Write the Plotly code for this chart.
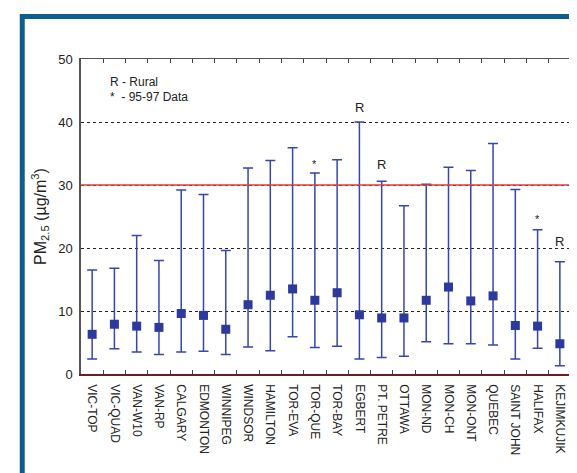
import plotly.graph_objects as go

categories = ["VIC-TOP", "VIC-QUAD", "VAN-W10", "VAN-RP", "CALGARY", "EDMONTON",
              "WINNIPEG", "WINDSOR", "HAMILTON", "TOR-EVA", "TOR-QUE", "TOR-BAY",
              "EGBERT", "PT. PETRE", "OTTAWA", "MON-ND", "MON-CH", "MON-ONT",
              "QUEBEC", "SAINT JOHN", "HALIFAX", "KEJIMKUJIK"]
mean_vals = [6.3, 7.9, 7.6, 7.4, 9.6, 9.3, 7.1, 11.0, 12.5, 13.5, 11.7, 12.9,
             9.4, 8.9, 8.9, 11.7, 13.8, 11.6, 12.4, 7.7, 7.6, 4.8]
upper_vals = [16.5, 16.8, 22.0, 18.0, 29.2, 28.5, 19.6, 32.7, 33.9, 35.9, 31.9, 34.0,
              40.0, 30.6, 26.7, 30.1, 32.8, 32.3, 36.6, 29.3, 22.9, 17.8]
lower_vals = [2.4, 4.0, 3.5, 3.1, 3.5, 3.6, 3.1, 4.3, 3.7, 5.9, 4.2, 4.4,
              2.4, 2.6, 2.8, 5.1, 4.8, 4.8, 4.6, 2.4, 4.1, 1.3]
# note markers: (category, label, y position)
notes = [("TOR-QUE", "*", 33.4), ("EGBERT", "R", 42.3), ("PT. PETRE", "R", 33.2),
         ("HALIFAX", "*", 24.6), ("KEJIMKUJIK", "R", 21.0)]
standard_value = 30

err_plus = [u - m for u, m in zip(upper_vals, mean_vals)]
err_minus = [m - l for m, l in zip(mean_vals, lower_vals)]

fig = go.Figure()
fig.add_trace(go.Scatter(
    x=categories, y=mean_vals, mode="markers",
    marker=dict(symbol="square", size=9, color="#2b3a9c"),
    error_y=dict(type="data", symmetric=False, array=err_plus, arrayminus=err_minus,
                 color="#3646ac", thickness=1.5, width=5),
    showlegend=False,
))
# top axis ticks
fig.add_trace(go.Scatter(x=categories, y=mean_vals, xaxis="x2", mode="markers",
                         marker=dict(opacity=0), showlegend=False, hoverinfo="skip"))

font_family = "Liberation Sans, Arial, sans-serif"

fig.update_layout(
    width=577, height=473,
    margin=dict(l=73, r=12, t=51, b=107),
    paper_bgcolor="white", plot_bgcolor="white",
    font=dict(family=font_family, color="#222222"),
    xaxis=dict(
        type="category", range=[-0.5, 21.5], tickson="boundaries",
        ticks="inside", ticklen=4, tickcolor="#444444",
        tickangle=90, tickfont=dict(size=12, color="#222222"),
        showline=True, linecolor="#6b1c1c", linewidth=1.5,
        showgrid=False, zeroline=False, ticklabelstandoff=6,
    ),
    xaxis2=dict(
        type="category", range=[-0.5, 21.5], tickson="boundaries",
        overlaying="x", side="top", matches="x",
        ticks="inside", ticklen=4, tickcolor="#444444",
        showticklabels=False, showline=True, linecolor="#555555", linewidth=1,
        showgrid=False, zeroline=False,
    ),
    yaxis=dict(
        range=[0, 50], tickvals=[0, 10, 20, 30, 40, 50],
        tickfont=dict(size=13, color="#222222"),
        showline=True, linecolor="#555555", linewidth=1.5, mirror=True,
        showgrid=True, gridcolor="#222222", griddash="dot", gridwidth=1,
        zeroline=False, ticks="", ticklabelstandoff=4,
        title=dict(text="PM<sub>2.5</sub> (µg/m<sup>3</sup>)",
                   font=dict(size=16, color="#222222"), standoff=8),
    ),
    shapes=[
        dict(type="line", xref="paper", yref="y", x0=0, x1=1,
             y0=standard_value, y1=standard_value,
             line=dict(color="#e8393a", width=1.5)),
        dict(type="rect", xref="paper", yref="paper",
             x0=-0.1199, x1=1.0173, y0=-0.40, y1=1.1349,
             line=dict(color="#0e5d8e", width=5), fillcolor="rgba(0,0,0,0)",
             layer="above"),
    ],
)

annotations = []
for cat, label, ypos in notes:
    annotations.append(dict(x=cat, y=ypos, xref="x", yref="y", text=label,
                            showarrow=False,
                            font=dict(size=13 if label == "R" else 11, color="#222222")))
annotations.append(dict(xref="paper", yref="paper", x=0.055, y=(366 - 74) / 315,
                        xanchor="left", yanchor="middle", text="R - Rural",
                        showarrow=False, font=dict(size=12, color="#222222")))
annotations.append(dict(xref="paper", yref="paper", x=0.055, y=(366 - 89) / 315,
                        xanchor="left", yanchor="middle", text="*  - 95-97 Data",
                        showarrow=False, font=dict(size=12, color="#222222")))
fig.update_layout(annotations=annotations)

fig.write_html("out.html")
